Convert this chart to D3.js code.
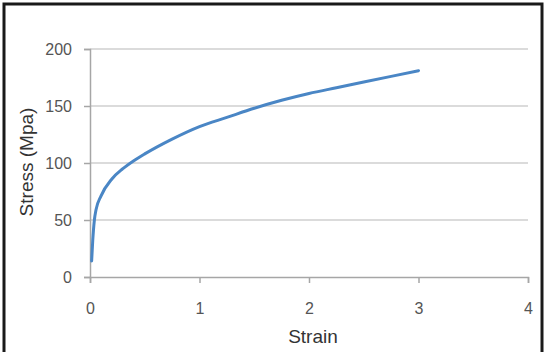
<!DOCTYPE html>
<html>
<head>
<meta charset="utf-8">
<script src="https://cdn.jsdelivr.net/npm/d3@7"></script>
<style>
  body { margin: 0; background: #fff; }
  svg { display: block; font-family: "Liberation Sans", Arial, sans-serif; }
</style>
</head>
<body>
<div id="chart"></div>
<script>
// stress-strain curve
const strain = [0.015, 0.025, 0.04, 0.055, 0.1, 0.2, 0.3, 0.4, 0.5, 0.75, 1, 1.25, 1.5, 1.75, 2, 2.25, 2.5, 2.75, 3];
const stress = [14, 32, 50, 59, 71, 86, 95, 102, 108, 121, 132, 140, 148, 155, 161, 166, 171, 176, 181];
const xTicks = [0, 1, 2, 3, 4];
const yTicks = [0, 50, 100, 150, 200];

let width = 548, height = 352;
let margin = {top: 49, right: 20, bottom: 75, left: 90};

let svg = d3.select("#chart").append("svg")
	.attr("width", width)
	.attr("height", height);

// outer frame
svg.append("rect")
	.attr("x", 4).attr("y", 4)
	.attr("width", 538).attr("height", 370)
	.attr("fill", "none")
	.attr("stroke", "#1a1a1a")
	.attr("stroke-width", 3);

let x = d3.scaleLinear().domain([0, 4]).range([margin.left, 528]);
let y = d3.scaleLinear().domain([0, 200]).range([277, margin.top]);

// gridlines
svg.append("g")
	.selectAll("line")
	.data(yTicks.filter(d => d > 0))
	.enter()
	.append("line")
	.attr("x1", x(0)).attr("x2", x(4))
	.attr("y1", d => y(d)).attr("y2", d => y(d))
	.attr("stroke", "#cfcfcf")
	.attr("stroke-width", 1.5);

// y axis
let yAxis = svg.append("g")
	.attr("transform", "translate(" + x(0) + ",0)")
	.call(d3.axisLeft(y).tickValues(yTicks).tickFormat(d3.format("d")).tickSize(6).tickPadding(12));

// x axis
let xAxis = svg.append("g")
	.attr("transform", "translate(0," + y(0) + ")")
	.call(d3.axisBottom(x).tickValues(xTicks).tickFormat(d3.format("d")).tickSize(6).tickPadding(20));

[yAxis, xAxis].forEach(g => {
	g.select(".domain").attr("stroke", "#a6a6a6").attr("stroke-width", 1.5);
	g.selectAll(".tick line").attr("stroke", "#a6a6a6").attr("stroke-width", 1.5);
	g.selectAll(".tick text")
		.attr("fill", "#555")
		.style("font-size", "16px")
		.style("font-family", "'Liberation Sans', Arial, sans-serif");
});

// curve
let points = strain.map((s, i) => [s, stress[i]]);
svg.append("path")
	.datum(points)
	.attr("fill", "none")
	.attr("stroke", "#4a86c5")
	.attr("stroke-width", 3)
	.attr("stroke-linecap", "round")
	.attr("d", d3.line()
		.x(d => x(d[0]))
		.y(d => y(d[1]))
		.curve(d3.curveMonotoneX));

// axis titles
svg.append("text")
	.attr("x", (x(0) + x(4)) / 2 + 4)
	.attr("y", 343)
	.attr("text-anchor", "middle")
	.attr("fill", "#333")
	.style("font-size", "19px")
	.text("Strain");

svg.append("text")
	.attr("transform", "translate(33,162) rotate(-90)")
	.attr("text-anchor", "middle")
	.attr("fill", "#333")
	.style("font-size", "19px")
	.text("Stress (Mpa)");
</script>
</body>
</html>
